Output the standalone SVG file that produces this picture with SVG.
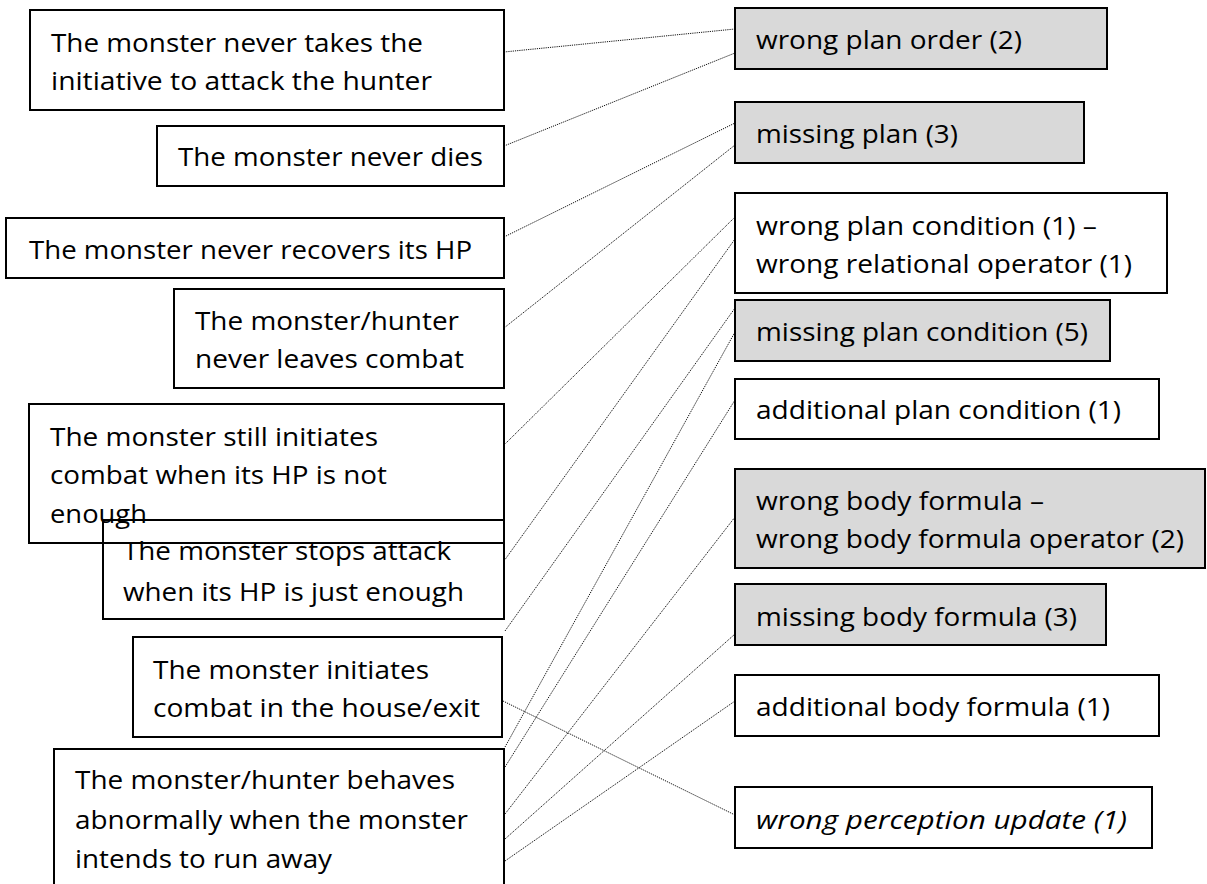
<svg xmlns="http://www.w3.org/2000/svg" width="1207" height="884" viewBox="0 0 1207 884">
<defs>
<style>
.bg{fill:#ffffff}
.box{fill:none;stroke:#000;stroke-width:2}
.wbox{fill:#ffffff;stroke:#000;stroke-width:2}
.gbox{fill:#d9d9d9;stroke:#000;stroke-width:2}
.t{font-family:"Open Sans","Liberation Sans",sans-serif;font-size:26px;fill:#000}
.it{font-style:italic}
.c line{stroke:#111;stroke-width:1;stroke-dasharray:1.2 1;fill:none}
</style>
</defs>
<rect class="bg" x="0" y="0" width="1207" height="884"/>
<g id="connectors" class="c">
<line x1="504" y1="52" x2="735" y2="29"/>
<line x1="504" y1="146" x2="735" y2="53"/>
<line x1="504" y1="237" x2="735" y2="123"/>
<line x1="504" y1="328" x2="735" y2="145"/>
<line x1="504" y1="445" x2="735" y2="217"/>
<line x1="504" y1="561" x2="735" y2="239"/>
<line x1="505" y1="631" x2="735" y2="308"/>
<line x1="505" y1="747" x2="735" y2="332"/>
<line x1="505" y1="767" x2="735" y2="400"/>
<line x1="505" y1="814" x2="735" y2="517"/>
<line x1="505" y1="839" x2="735" y2="634"/>
<line x1="505" y1="861" x2="735" y2="701"/>
<line x1="503" y1="701" x2="735" y2="815"/>
</g>
<g id="n1"><rect class="box" x="30" y="10" width="474" height="100"/>
<text class="t" x="51" y="52" textLength="372" lengthAdjust="spacingAndGlyphs">The monster never takes the</text>
<text class="t" x="51" y="90" textLength="381" lengthAdjust="spacingAndGlyphs">initiative to attack the hunter</text></g>
<g id="n2"><rect class="box" x="157" y="126" width="347" height="60"/>
<text class="t" x="178" y="166" textLength="305" lengthAdjust="spacingAndGlyphs">The monster never dies</text></g>
<g id="n3"><rect class="box" x="6" y="218" width="498" height="60"/>
<text class="t" x="29" y="259" textLength="443" lengthAdjust="spacingAndGlyphs">The monster never recovers its HP</text></g>
<g id="n4"><rect class="box" x="174" y="289" width="330" height="99"/>
<text class="t" x="195" y="330" textLength="264" lengthAdjust="spacingAndGlyphs">The monster/hunter</text>
<text class="t" x="195" y="368" textLength="269" lengthAdjust="spacingAndGlyphs">never leaves combat</text></g>
<g id="n5"><rect class="box" x="29" y="404" width="475" height="139"/>
<text class="t" x="50" y="446" textLength="328" lengthAdjust="spacingAndGlyphs">The monster still initiates</text>
<text class="t" x="50" y="484" textLength="337" lengthAdjust="spacingAndGlyphs">combat when its HP is not</text>
<text class="t" x="50" y="523" textLength="97" lengthAdjust="spacingAndGlyphs">enough</text></g>
<g id="n6"><rect class="box" x="103" y="520" width="401" height="99"/>
<text class="t" x="123" y="560" textLength="328" lengthAdjust="spacingAndGlyphs">The monster stops attack</text>
<text class="t" x="123" y="601" textLength="341" lengthAdjust="spacingAndGlyphs">when its HP is just enough</text></g>
<g id="n7"><rect class="box" x="133" y="637" width="369" height="100"/>
<text class="t" x="153" y="679" textLength="276" lengthAdjust="spacingAndGlyphs">The monster initiates</text>
<text class="t" x="153" y="717" textLength="327" lengthAdjust="spacingAndGlyphs">combat in the house/exit</text></g>
<g id="n8"><rect class="box" x="54" y="749" width="450" height="150"/>
<text class="t" x="75" y="789" textLength="380" lengthAdjust="spacingAndGlyphs">The monster/hunter behaves</text>
<text class="t" x="75" y="829" textLength="393" lengthAdjust="spacingAndGlyphs">abnormally when the monster</text>
<text class="t" x="75" y="868" textLength="257" lengthAdjust="spacingAndGlyphs">intends to run away</text></g>
<g id="r1"><rect class="gbox" x="735" y="8" width="372" height="61"/>
<text class="t" x="756" y="49" textLength="266" lengthAdjust="spacingAndGlyphs">wrong plan order (2)</text></g>
<g id="r2"><rect class="gbox" x="735" y="102" width="349" height="61"/>
<text class="t" x="756" y="143" textLength="202" lengthAdjust="spacingAndGlyphs">missing plan (3)</text></g>
<g id="r3"><rect class="wbox" x="735" y="193" width="432" height="100"/>
<text class="t" x="756" y="235" textLength="341" lengthAdjust="spacingAndGlyphs">wrong plan condition (1) –</text>
<text class="t" x="756" y="273" textLength="376" lengthAdjust="spacingAndGlyphs">wrong relational operator (1)</text></g>
<g id="r4"><rect class="gbox" x="735" y="300" width="375" height="61"/>
<text class="t" x="756" y="341" textLength="332" lengthAdjust="spacingAndGlyphs">missing plan condition (5)</text></g>
<g id="r5"><rect class="wbox" x="735" y="379" width="424" height="60"/>
<text class="t" x="756" y="419" textLength="365" lengthAdjust="spacingAndGlyphs">additional plan condition (1)</text></g>
<g id="r6"><rect class="gbox" x="735" y="469" width="470" height="99"/>
<text class="t" x="756" y="510" textLength="288" lengthAdjust="spacingAndGlyphs">wrong body formula –</text>
<text class="t" x="756" y="548" textLength="428" lengthAdjust="spacingAndGlyphs">wrong body formula operator (2)</text></g>
<g id="r7"><rect class="gbox" x="735" y="584" width="371" height="61"/>
<text class="t" x="756" y="626" textLength="321" lengthAdjust="spacingAndGlyphs">missing body formula (3)</text></g>
<g id="r8"><rect class="wbox" x="735" y="675" width="424" height="61"/>
<text class="t" x="756" y="716" textLength="354" lengthAdjust="spacingAndGlyphs">additional body formula (1)</text></g>
<g id="r9"><rect class="wbox" x="735" y="787" width="417" height="61"/>
<text class="t it" x="756" y="829" textLength="371" lengthAdjust="spacingAndGlyphs">wrong perception update (1)</text></g>
</svg>
